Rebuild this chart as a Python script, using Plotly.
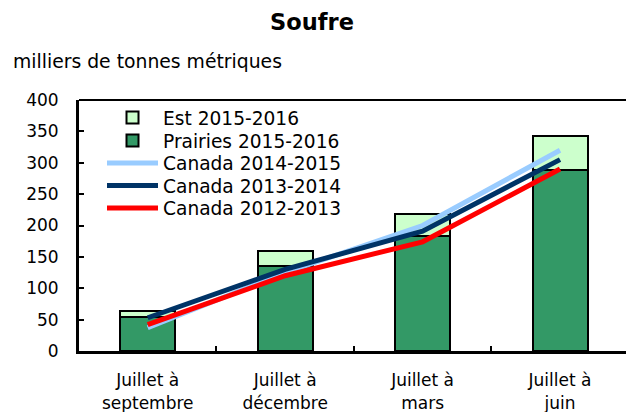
import plotly.graph_objects as go

categories = ["Juillet à<br>septembre", "Juillet à<br>décembre", "Juillet à<br>mars", "Juillet à<br>juin"]
prairies_2015_2016 = [54, 135, 183, 289]
est_2015_2016 = [10, 25, 36, 54]
canada_2014_2015 = [37, 125, 200, 320]
canada_2013_2014 = [53, 130, 191, 305]
canada_2012_2013 = [42, 120, 174, 290]

FONT = "DejaVu Sans"
PLOT_L, PLOT_T, PLOT_B = 79, 100, 351
PLOT_W = 626 - PLOT_L
PLOT_H = PLOT_B - PLOT_T

fig = go.Figure()
fig.add_trace(go.Bar(x=categories, y=prairies_2015_2016, name="Prairies 2015-2016",
                     marker=dict(color="#339966", line=dict(color="black", width=2)), legend="legend2"))
fig.add_trace(go.Bar(x=categories, y=est_2015_2016, name="Est 2015-2016",
                     marker=dict(color="#CCFFCC", line=dict(color="black", width=2)), legend="legend"))
fig.add_trace(go.Scatter(x=categories, y=canada_2014_2015, name="Canada 2014-2015", mode="lines",
                         line=dict(color="#99CCFF", width=5), legend="legend3"))
fig.add_trace(go.Scatter(x=categories, y=canada_2013_2014, name="Canada 2013-2014", mode="lines",
                         line=dict(color="#003366", width=5), legend="legend4"))
fig.add_trace(go.Scatter(x=categories, y=canada_2012_2013, name="Canada 2012-2013", mode="lines",
                         line=dict(color="#FF0000", width=5), legend="legend5"))

row_centers = [118, 141, 163.5, 186, 208.5]
legend_x = (102 - PLOT_L) / PLOT_W
legends = {}
for i, yc in enumerate(row_centers):
    key = "legend" if i == 0 else f"legend{i + 1}"
    legends[key] = dict(x=legend_x, y=(PLOT_B - yc) / PLOT_H, xanchor="left", yanchor="middle",
                        bgcolor="rgba(0,0,0,0)", font=dict(size=18.6, family=FONT),
                        itemwidth=51)

fig.update_layout(
    width=626, height=412,
    margin=dict(l=PLOT_L, r=0, t=PLOT_T, b=412 - PLOT_B),
    paper_bgcolor="white", plot_bgcolor="white",
    font=dict(family=FONT, size=17, color="black"),
    barmode="stack", bargap=0.6,
    showlegend=True,
    title=dict(text="<b>Soufre</b>", x=(312 - PLOT_L) / PLOT_W, xref="paper", xanchor="center",
               y=1 - 22 / 412, yanchor="middle", font=dict(size=22.5, family=FONT)),
    annotations=[dict(text="milliers de tonnes métriques", xref="paper", yref="paper",
                      x=(11 - PLOT_L) / PLOT_W, y=(PLOT_B - 62) / PLOT_H, xanchor="left", yanchor="middle",
                      showarrow=False, font=dict(size=18.8, family=FONT))],
    shapes=[dict(type="line", xref="paper", yref="paper", x0=0, x1=1, y0=1, y1=1,
                 line=dict(color="black", width=2))],
    **legends,
)
fig.update_xaxes(range=[-0.5, 3.48], showline=True, linecolor="black", linewidth=3,
                 ticks="inside", tickson="boundaries", ticklen=5, tickcolor="black", tickwidth=2,
                 showgrid=False, ticklabelstandoff=12)
fig.update_yaxes(range=[0, 400], dtick=50, showline=True, linecolor="black", linewidth=3,
                 ticks="inside", ticklen=5, tickcolor="black", tickwidth=2,
                 showgrid=False, zeroline=False, ticklabelstandoff=14)

fig.write_html("out.html", config={"displayModeBar": False},
               post_script="document.body.style.margin='0';")
